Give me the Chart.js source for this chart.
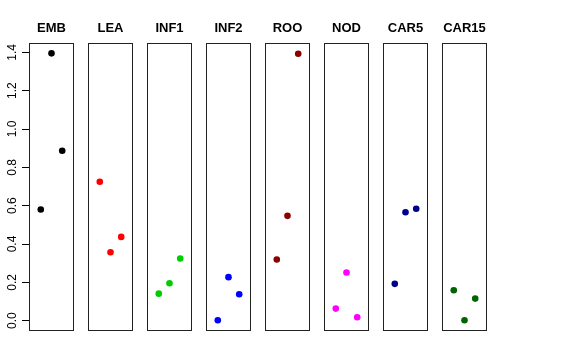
<!DOCTYPE html>
<html>
<head>
<meta charset="utf-8">
<script src="https://cdn.jsdelivr.net/npm/chart.js@4/dist/chart.umd.min.js"></script>
<style>
  body { margin: 0; background: #fff; }
  #wrap { position: relative; width: 576px; height: 360px; overflow: hidden; }
  #wrap canvas { position: absolute; top: 0; }
</style>
</head>
<body>
<div id="wrap"></div>
<script>
// panel names, colours and the three values shown in each panel
const panels = ["EMB", "LEA", "INF1", "INF2", "ROO", "NOD", "CAR5", "CAR15"];
const colores = ["#000000", "#ff0000", "#00cd00", "#0000ff", "#8b0000", "#ff00ff", "#00008b", "#006400"];
const xPos = [1, 2, 3];
const valEMB = [0.580, 1.395, 0.887];
const valLEA = [0.725, 0.357, 0.437];
const valINF1 = [0.141, 0.195, 0.324];
const valINF2 = [0.002, 0.227, 0.138];
const valROO = [0.319, 0.547, 1.393];
const valNOD = [0.063, 0.251, 0.018];
const valCAR5 = [0.192, 0.566, 0.584];
const valCAR15 = [0.159, 0.002, 0.115];
const yTicks = [0.0, 0.2, 0.4, 0.6, 0.8, 1.0, 1.2, 1.4];

const valores = [valEMB, valLEA, valINF1, valINF2, valROO, valNOD, valCAR5, valCAR15];

// layout (R style, mfrow 1x8)
const Y_MIN = -0.054, Y_MAX = 1.451;
const X_MIN = -0.1, X_MAX = 4.1;
const PRIMER_X = 29, PASO = 59, ANCHO = 45, EJE_Y = 29;

// draws the box around each panel
const cajaPlugin = {
  id: "caja",
  afterDraw(chart) {
    const { ctx, chartArea: a } = chart;
    ctx.save();
    ctx.strokeStyle = "#222";
    ctx.lineWidth = 1;
    ctx.strokeRect(Math.round(a.left) + 0.5, Math.round(a.top) + 0.5,
      Math.round(a.right - a.left) - 1, Math.round(a.bottom - a.top) - 1);
    ctx.restore();
  }
};

const wrap = document.getElementById("wrap");

panels.forEach((nombre, i) => {
  const conEje = i === 0;
  const canvas = document.createElement("canvas");
  const ancho = conEje ? EJE_Y + ANCHO : ANCHO;
  const izq = conEje ? 0 : PRIMER_X + PASO * i;
  canvas.width = ancho;
  canvas.height = 360;
  canvas.style.left = izq + "px";
  canvas.style.width = ancho + "px";
  canvas.style.height = "360px";
  wrap.appendChild(canvas);

  new Chart(canvas.getContext("2d"), {
    type: "scatter",
    data: {
      datasets: [{
        data: xPos.map((x, k) => ({ x, y: valores[i][k] })),
        backgroundColor: colores[i],
        borderWidth: 0,
        pointRadius: 3.3,
        pointHoverRadius: 3.3
      }]
    },
    options: {
      responsive: false,
      animation: false,
      devicePixelRatio: 1,
      layout: { autoPadding: false, padding: { top: 0, bottom: 29, left: 0, right: 0 } },
      plugins: {
        legend: { display: false },
        tooltip: { enabled: false },
        title: {
          display: true,
          text: nombre,
          fullSize: false,
          color: "#000",
          font: { family: "'Liberation Sans', Arial, sans-serif", size: 13, weight: "bold", lineHeight: 1.2 },
          padding: { top: 21, bottom: 6 }
        }
      },
      scales: {
        x: { type: "linear", min: X_MIN, max: X_MAX, display: false },
        y: {
          type: "linear",
          min: Y_MIN,
          max: Y_MAX,
          display: conEje,
          afterBuildTicks: s => { s.ticks = yTicks.map(v => ({ value: v })); },
          afterFit: s => { if (conEje) s.width = EJE_Y; },
          border: { display: false },
          grid: { drawOnChartArea: false, drawTicks: true, tickLength: 7, color: "#000", tickColor: "#000" },
          ticks: {
            minRotation: 90,
            maxRotation: 90,
            crossAlign: "center",
            padding: 1,
            color: "#000",
            font: { family: "'Liberation Sans', Arial, sans-serif", size: 12 },
            callback: v => v.toFixed(1)
          }
        }
      }
    },
    plugins: [cajaPlugin]
  });
});
</script>
</body>
</html>
